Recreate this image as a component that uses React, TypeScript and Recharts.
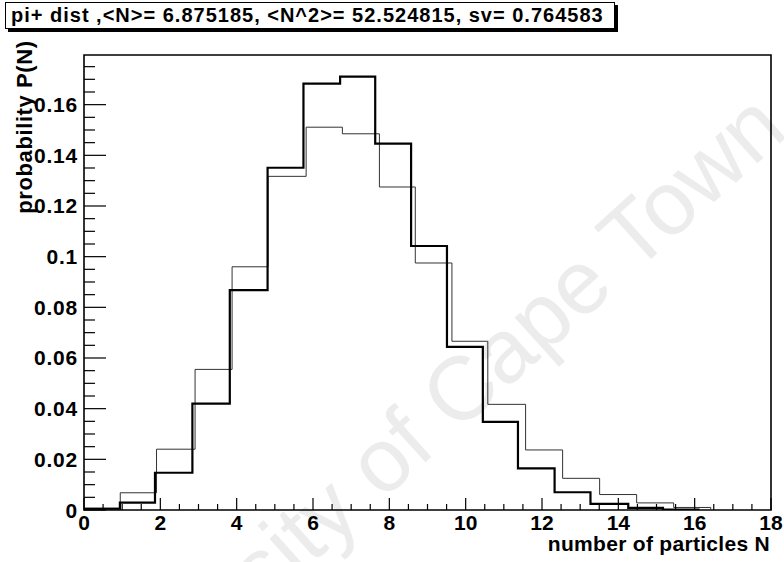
import { LineChart, Line, XAxis, YAxis, ReferenceArea } from 'recharts';

const FONT = '"Liberation Sans", Arial, Helvetica, sans-serif';

// bin edges and contents (the two histograms use slightly different binning)
const thickEdges = [0, 0.94, 1.86, 2.84, 3.82, 4.81, 5.75, 6.71, 7.63, 8.57, 9.51, 10.45, 11.37, 12.33, 13.27, 14.26, 15.17, 16.1];
const thickValues = [0.0005, 0.0029, 0.0147, 0.042, 0.0868, 0.1351, 0.1683, 0.1711, 0.1446, 0.1042, 0.0644, 0.0348, 0.0164, 0.007, 0.0024, 0.0008, 0.0002];

const thinEdges = [0, 0.95, 1.9, 2.91, 3.88, 4.82, 5.82, 6.77, 7.74, 8.68, 9.64, 10.58, 11.57, 12.54, 13.51, 14.48, 15.45, 16.42];
const thinValues = [0.0007, 0.0068, 0.024, 0.0555, 0.096, 0.1317, 0.1511, 0.1485, 0.1275, 0.0975, 0.0666, 0.0417, 0.0237, 0.0125, 0.0061, 0.0028, 0.001];

const xMajorTicks = [0, 2, 4, 6, 8, 10, 12, 14, 16, 18];
const yMajorTicks = [0, 0.02, 0.04, 0.06, 0.08, 0.1, 0.12, 0.14, 0.16];
const xMinorStep = 0.5;
const yMinorStep = 0.005;

const X_MAX = 18;
const Y_MAX = 0.1796;

const title = 'pi+ dist ,<N>= 6.875185, <N^2>= 52.524815, sv= 0.764583';
const xTitle = 'number of particles N';
const yTitle = 'probability P(N)';
const watermark = 'University of Cape Town';

const toSteps = (edges: number[], values: number[]) =>
    edges.map((x, i) => ({ x, y: i < values.length ? values[i] : 0 }));

const thickData = toSteps(thickEdges, thickValues);
const thinData = toSteps(thinEdges, thinValues);

const xTicks: number[] = [];
for (let i = 0; i * xMinorStep <= X_MAX + 1e-9; i++) xTicks.push(+(i * xMinorStep).toFixed(3));
const yTicks: number[] = [];
for (let i = 0; i * yMinorStep <= Y_MAX; i++) yTicks.push(+(i * yMinorStep).toFixed(4));

const isMajor = (v: number, majors: number[]) => majors.some((m) => Math.abs(m - v) < 1e-9);

const XTick = (props: any) => {
    const { x, y, payload } = props;
    const major = isMajor(payload.value, xMajorTicks);
    return (
        <g>
            <line x1={x} x2={x} y1={y} y2={y - (major ? 12 : 6)} stroke="#000" strokeWidth={1.2} />
            {major && (
                <text x={x} y={y + 20} textAnchor="middle" fontFamily={FONT} fontWeight="bold" fontSize={21} fill="#000">
                    {payload.value}
                </text>
            )}
        </g>
    );
};

const YTick = (props: any) => {
    const { x, y, payload } = props;
    const major = isMajor(payload.value, yMajorTicks);
    return (
        <g>
            <line x1={x} x2={x + (major ? 22 : 11)} y1={y} y2={y} stroke="#000" strokeWidth={1.2} />
            {major && (
                <text x={x - 6} y={y + 7.5} textAnchor="end" fontFamily={FONT} fontWeight="bold" fontSize={21} letterSpacing={0.8} fill="#000">
                    {String(+payload.value.toFixed(2))}
                </text>
            )}
        </g>
    );
};

export default function App() {
    return (
        <div style={{ position: 'absolute', left: 0, top: 0, width: 784, height: 562, background: '#fff', overflow: 'hidden' }}>
            {/* faint diagonal watermark from the scanned page */}
            <svg width={784} height={562} style={{ position: 'absolute', left: 0, top: 0 }}>
                <text
                    transform="translate(430,458) rotate(-42)"
                    textAnchor="middle"
                    fontFamily={FONT}
                    fontSize={90}
                    fill="#ececec"
                >
                    {watermark}
                </text>
            </svg>

            <div style={{ position: 'absolute', left: 0, top: 0 }}>
                <LineChart width={784} height={562} margin={{ top: 55, right: 13, bottom: 0, left: 0 }}>
                    <XAxis
                        type="number"
                        dataKey="x"
                        domain={[0, X_MAX]}
                        ticks={xTicks}
                        interval={0}
                        allowDataOverflow
                        height={52}
                        axisLine={false}
                        tickLine={false}
                        tickSize={0}
                        tickMargin={0}
                        tick={<XTick />}
                    />
                    <YAxis
                        type="number"
                        domain={[0, Y_MAX]}
                        ticks={yTicks}
                        interval={0}
                        allowDataOverflow
                        width={84}
                        axisLine={false}
                        tickLine={false}
                        tickSize={0}
                        tickMargin={0}
                        tick={<YTick />}
                    />
                    <ReferenceArea x1={0} x2={X_MAX} y1={0} y2={Y_MAX} fill="none" stroke="#000" strokeWidth={1.6} />
                    <Line data={thinData} dataKey="y" type="stepAfter" stroke="#333" strokeWidth={1} dot={false} isAnimationActive={false} />
                    <Line data={thickData} dataKey="y" type="stepAfter" stroke="#000" strokeWidth={2.2} dot={false} isAnimationActive={false} />
                </LineChart>
            </div>

            <svg width={784} height={562} style={{ position: 'absolute', left: 0, top: 0, pointerEvents: 'none' }}>
                <text transform="translate(32,127) rotate(-90)" textAnchor="middle" fontFamily={FONT} fontWeight="bold" fontSize={22} letterSpacing={0.6} fill="#000">
                    {yTitle}
                </text>
                <text x={770} y={551} textAnchor="end" fontFamily={FONT} fontWeight="bold" fontSize={21} letterSpacing={0.3} fill="#000">
                    {xTitle}
                </text>
            </svg>

            <div
                style={{
                    position: 'absolute',
                    left: 5,
                    top: 2,
                    width: 603,
                    height: 25,
                    border: '1.5px solid #000',
                    boxShadow: '3px 3px 0 #000',
                    background: '#fff',
                    fontFamily: FONT,
                    fontWeight: 'bold',
                    fontSize: 20,
                    letterSpacing: 1,
                    lineHeight: '25px',
                    paddingLeft: 5,
                    whiteSpace: 'nowrap',
                    boxSizing: 'content-box',
                }}
            >
                {title}
            </div>
        </div>
    );
}
